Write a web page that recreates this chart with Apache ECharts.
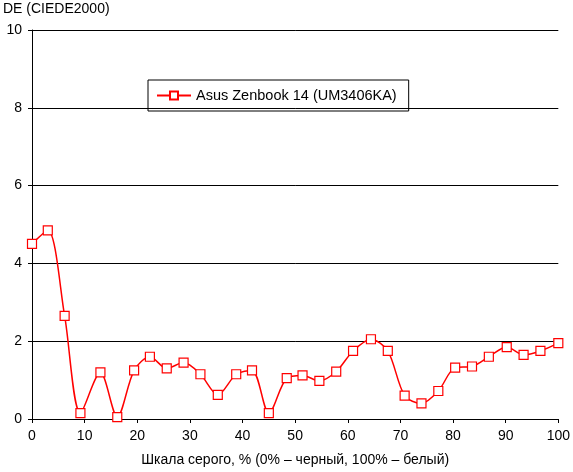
<!DOCTYPE html>
<html>
<head>
<meta charset="utf-8">
<script src="https://cdn.jsdelivr.net/npm/echarts@6/dist/echarts.min.js"></script>
<style>html,body{margin:0;padding:0;background:#fff}#chart{width:573px;height:472px}</style>
</head>
<body>
<div id="chart"></div>
<script>
const grayX = [0, 3.0, 6.2, 9.2, 13.0, 16.2, 19.4, 22.4, 25.6, 28.8, 32.0, 35.3, 38.8, 41.8, 45.0, 48.4, 51.4, 54.6, 57.8, 61.0, 64.4, 67.6, 70.8, 74.0, 77.2, 80.4, 83.6, 86.8, 90.2, 93.4, 96.6, 100];
const deValues = [4.5, 4.85, 2.65, 0.15, 1.2, 0.05, 1.25, 1.6, 1.3, 1.45, 1.15, 0.62, 1.15, 1.25, 0.15, 1.05, 1.12, 0.98, 1.22, 1.75, 2.05, 1.75, 0.6, 0.4, 0.72, 1.32, 1.35, 1.6, 1.85, 1.65, 1.75, 1.95];
const seriesName = "Asus Zenbook 14 (UM3406KA)";

const chart = echarts.init(document.getElementById("chart"));
const font = "Liberation Sans, Arial, sans-serif";
chart.setOption({
    animation: false,
    textStyle: { fontFamily: font },
    grid: { left: 29, right: 13, top: 30, bottom: 50 },
    legend: {
        left: 148, top: 80,
        padding: [8, 12, 8, 8],
        borderColor: "#000", borderWidth: 1,
        itemWidth: 34, itemHeight: 10, itemGap: 6,
        textStyle: { fontSize: 14.5, color: "#000", fontFamily: font },
        data: [seriesName]
    },
    xAxis: {
        type: "value", min: 0, max: 100, interval: 10,
        name: "Шкала серого, % (0% – черный, 100% – белый)",
        nameLocation: "middle", nameGap: 34,
        nameTextStyle: { fontSize: 14, color: "#000" },
        axisLine: { lineStyle: { color: "#000" } },
        axisTick: { show: true, length: 4, lineStyle: { color: "#000" } },
        axisLabel: { fontSize: 14, color: "#000", margin: 10 },
        splitLine: { show: false }
    },
    yAxis: {
        type: "value", min: 0, max: 10, interval: 2,
        name: "DE (CIEDE2000)", nameGap: 14,
        nameTextStyle: { fontSize: 14, color: "#000", align: "left", padding: [0, 0, 0, -29] },
        axisLine: { show: true, lineStyle: { color: "#000" } },
        axisTick: { show: true, length: 4, lineStyle: { color: "#000" } },
        axisLabel: { fontSize: 14, color: "#000", margin: 10 },
        splitLine: { show: true, lineStyle: { color: "#000", width: 1 } }
    },
    series: [{
        name: seriesName,
        type: "line",
        smooth: 0.3,
        data: grayX.map((x, i) => [x, deValues[i]]),
        symbol: "rect", symbolSize: 9,
        lineStyle: { color: "#ff0000", width: 1.5 },
        itemStyle: { color: "#fff", borderColor: "#ff0000", borderWidth: 1.2 }
    }]
});
</script>
</body>
</html>
